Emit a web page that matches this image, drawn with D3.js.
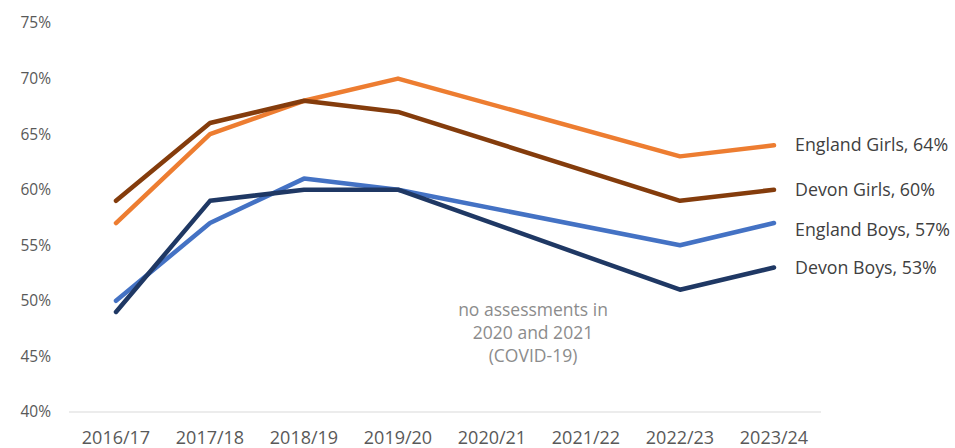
<!DOCTYPE html>
<html lang="en">
  <head>
    <meta charset="utf-8">
    <title></title>
    <style>
      body { margin: 0; background: #fff; }
      .chart text { font-family: "Open Sans", sans-serif; }
    </style>
  </head>
  <body>
    <svg class="chart"></svg>

    <script src="https://cdn.jsdelivr.net/npm/d3@7/dist/d3.min.js"></script>
    <script type="text/javascript">
      var years = ["2016/17", "2017/18", "2018/19", "2019/20", "2020/21", "2021/22", "2022/23", "2023/24"];
      // null = no assessments (COVID-19)
      var englandGirls = [57, 65, 68, 70, null, null, 63, 64];
      var devonGirls   = [59, 66, 68, 67, null, null, 59, 60];
      var englandBoys  = [50, 57, 61, 60, null, null, 55, 57];
      var devonBoys    = [49, 59, 60, 60, null, null, 51, 53];
      var yTicks = [40, 45, 50, 55, 60, 65, 70, 75];

      var series = [
        {name: "England Girls", values: englandGirls, color: "#ED7D31", dy: 0},
        {name: "Devon Girls",   values: devonGirls,   color: "#843C0C", dy: 0},
        {name: "England Boys",  values: englandBoys,  color: "#4472C4", dy: 7},
        {name: "Devon Boys",    values: devonBoys,    color: "#1F3864", dy: 0}
      ];

      var width = 955, height = 448;
      var margin = {top: 23, right: 134, bottom: 36, left: 69};

      var svg = d3.select(".chart")
          .attr("width", width)
          .attr("height", height);

      var x = d3.scaleBand().domain(years).range([margin.left, width - margin.right]);
      var y = d3.scaleLinear().domain([40, 75]).range([height - margin.bottom, margin.top]);

      // y tick labels
      svg.append("g").selectAll("text")
          .data(yTicks)
        .enter().append("text")
          .attr("x", 51)
          .attr("y", function(d) { return y(d); })
          .attr("dy", "0.35em")
          .attr("text-anchor", "end")
          .attr("fill", "#595959")
          .style("font-size", "15.5px")
          .text(function(d) { return d + "%"; });

      // baseline
      svg.append("line")
          .attr("x1", x.range()[0]).attr("x2", x.range()[1])
          .attr("y1", y(40)).attr("y2", y(40))
          .attr("stroke", "#d9d9d9")
          .attr("stroke-width", 1);

      // x labels
      svg.append("g").selectAll("text")
          .data(years)
        .enter().append("text")
          .attr("x", function(d) { return x(d) + x.bandwidth() / 2; })
          .attr("y", y(40) + 26)
          .attr("dy", "0.35em")
          .attr("text-anchor", "middle")
          .attr("fill", "#595959")
          .style("font-size", "18px")
          .text(function(d) { return d; });

      var line = d3.line()
          .x(function(d) { return x(d.year) + x.bandwidth() / 2; })
          .y(function(d) { return y(d.value); });

      series.forEach(function(s) {
        var pts = years.map(function(yr, i) { return {year: yr, value: s.values[i]}; })
            .filter(function(d) { return d.value != null; });

        svg.append("path")
            .datum(pts)
            .attr("fill", "none")
            .attr("stroke", s.color)
            .attr("stroke-width", 4.5)
            .attr("stroke-linecap", "round")
            .attr("stroke-linejoin", "round")
            .attr("d", line);

        var last = pts[pts.length - 1];
        svg.append("text")
            .attr("x", x(last.year) + x.bandwidth() / 2 + 21)
            .attr("y", y(last.value) + s.dy)
            .attr("dy", "0.35em")
            .attr("fill", "#404040")
            .style("font-size", "17.8px")
            .text(s.name + ", " + last.value + "%");
      });

      // covid note
      var note = svg.append("text")
          .attr("text-anchor", "middle")
          .attr("fill", "#8c8c8c")
          .style("font-size", "17.5px");
      ["no assessments in", "2020 and 2021", "(COVID-19)"].forEach(function(t, i) {
        note.append("tspan")
            .attr("x", 533)
            .attr("y", 310 + i * 23)
            .attr("dy", "0.35em")
            .text(t);
      });
    </script>
  </body>
</html>
